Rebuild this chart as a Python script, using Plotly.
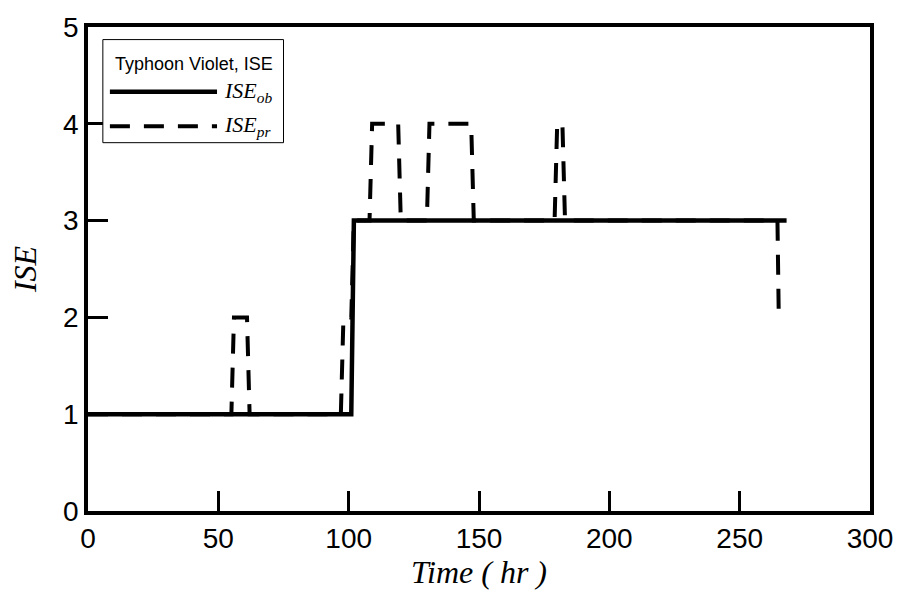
import plotly.graph_objects as go

# Observed ISE (breakpoints, hours)
t_ob = [0, 101, 102, 268]
ise_ob = [1, 1, 3, 3]

# Predicted ISE (breakpoints, hours)
t_pr = [0, 55, 56, 61, 62, 97, 98, 101, 102, 108, 109, 119, 120, 130, 131, 147, 148,
        179, 180, 182, 183, 264.5, 265, 267]
ise_pr = [1, 1, 2, 2, 1, 1, 2, 2, 3, 3, 4, 4, 3, 3, 4, 4, 3,
          3, 4, 4, 3, 3, 2, 2]

x_ticks = [0, 50, 100, 150, 200, 250, 300]
y_ticks = [0, 1, 2, 3, 4, 5]

legend_title = "Typhoon Violet, ISE"
legend_labels = ["<i>ISE<sub>ob</sub></i>", "<i>ISE<sub>pr</sub></i>"]

fig = go.Figure()
fig.add_trace(go.Scatter(x=t_pr, y=ise_pr, mode="lines",
                         line=dict(color="black", width=4, dash="20px,14px"),
                         name="ISE_pr", showlegend=False))
fig.add_trace(go.Scatter(x=t_ob, y=ise_ob, mode="lines",
                         line=dict(color="black", width=4.5),
                         name="ISE_ob", showlegend=False))

axis_common = dict(showgrid=False, zeroline=False, showline=True, linecolor="black",
                   linewidth=3.5, mirror=True, ticks="inside", ticklen=20, tickwidth=3,
                   tickcolor="black",
                   tickfont=dict(family="Liberation Sans, Arial", size=28, color="black"))

fig.update_xaxes(range=[0, 300], tickvals=x_ticks, **axis_common,
                 title=dict(text="<i>Time ( hr )</i>", standoff=4,
                            font=dict(family="Liberation Serif, Times New Roman", size=32, color="black")))
fig.update_yaxes(range=[0, 5], tickvals=y_ticks, **axis_common,
                 title=dict(text="<i>ISE</i>", standoff=18,
                            font=dict(family="Liberation Serif, Times New Roman", size=32, color="black")))

# Manual legend box (paper coordinates)
fig.add_shape(type="rect", xref="paper", yref="paper", x0=0.019, x1=0.250, y0=0.761, y1=0.974,
              line=dict(color="black", width=1), fillcolor="white", layer="above")
fig.add_annotation(xref="paper", yref="paper", x=0.135, y=0.924, text=legend_title,
                   showarrow=False, xanchor="center", yanchor="middle",
                   font=dict(family="Liberation Sans, Arial", size=18, color="black"))
fig.add_shape(type="line", xref="paper", yref="paper", x0=0.028, x1=0.165, y0=0.866, y1=0.866,
              line=dict(color="black", width=4.5))
fig.add_shape(type="line", xref="paper", yref="paper", x0=0.028, x1=0.165, y0=0.795, y1=0.795,
              line=dict(color="black", width=4, dash="20px,14px"))
fig.add_annotation(xref="paper", yref="paper", x=0.171, y=0.866, text=legend_labels[0],
                   showarrow=False, xanchor="left", yanchor="middle",
                   font=dict(family="Liberation Serif, Times New Roman", size=22, color="black"))
fig.add_annotation(xref="paper", yref="paper", x=0.171, y=0.795, text=legend_labels[1],
                   showarrow=False, xanchor="left", yanchor="middle",
                   font=dict(family="Liberation Serif, Times New Roman", size=22, color="black"))

fig.update_layout(width=905, height=593, margin=dict(l=88, r=30, t=19, b=81),
                  plot_bgcolor="white", paper_bgcolor="white", showlegend=False)

fig.write_html("out.html")
